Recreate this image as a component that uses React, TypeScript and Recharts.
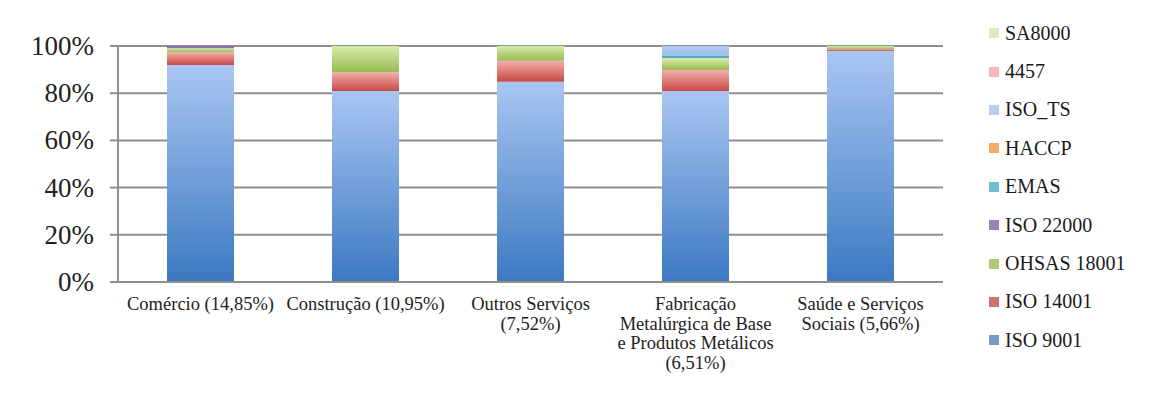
import React from "react";
import {
  BarChart,
  Bar,
  XAxis,
  YAxis,
  CartesianGrid,
} from "recharts";

const categories = [
  "Comércio (14,85%)",
  "Construção (10,95%)",
  "Outros Serviços (7,52%)",
  "Fabricação Metalúrgica de Base e Produtos Metálicos (6,51%)",
  "Saúde e Serviços Sociais (5,66%)",
];

// how each category label is broken over lines, as in the picture
const categoryLines = [
  ["Comércio (14,85%)"],
  ["Construção (10,95%)"],
  ["Outros Serviços", "(7,52%)"],
  ["Fabricação", "Metalúrgica de Base", "e Produtos Metálicos", "(6,51%)"],
  ["Saúde e Serviços", "Sociais (5,66%)"],
];

// share of each certification per category, in %
const iso9001 = [91.9, 80.9, 84.9, 80.9, 97.9];
const iso14001 = [5.5, 8.0, 8.9, 8.9, 0.8];
const ohsas18001 = [1.6, 11.1, 6.2, 5.1, 1.3];
const iso22000 = [1.0, 0, 0, 0, 0];
const emas = [0, 0, 0, 1.1, 0];
const haccp = [0, 0, 0, 0, 0];
const isoTs = [0, 0, 0, 4.0, 0];
const n4457 = [0, 0, 0, 0, 0];
const sa8000 = [0, 0, 0, 0, 0];

const yTicks = [0, 20, 40, 60, 80, 100];
const boundaryTicks = [1, 2, 3, 4, 5];

const SERIES = [
  { key: "ISO 9001", values: iso9001, fill: "url(#gBlue)", swatch: "#4f81bd" },
  { key: "ISO 14001", values: iso14001, fill: "url(#gRed)", swatch: "#c0504d" },
  { key: "OHSAS 18001", values: ohsas18001, fill: "url(#gGreen)", swatch: "#9bbb59" },
  { key: "ISO 22000", values: iso22000, fill: "#8a70ab", swatch: "#8064a2" },
  { key: "EMAS", values: emas, fill: "#4bacc6", swatch: "#4bacc6" },
  { key: "HACCP", values: haccp, fill: "#f79646", swatch: "#f79646" },
  { key: "ISO_TS", values: isoTs, fill: "url(#gLightBlue)", swatch: "#a7c0ec" },
  { key: "4457", values: n4457, fill: "#f0a9a7", swatch: "#f0a9a7" },
  { key: "SA8000", values: sa8000, fill: "#d3e7b0", swatch: "#d3e7b0" },
];

const data = categories.map((name, i) => {
  const row: Record<string, any> = { name };
  SERIES.forEach((s) => {
    row[s.key] = s.values[i];
  });
  return row;
});

const FONT = "'Liberation Serif', 'DejaVu Serif', serif";
const GRID = "#8f8f8f";

function CategoryTick({ x, y, payload }: any) {
  const lines = categoryLines[payload.index] || [payload.value];
  return (
    <text
      x={x}
      y={y + 20}
      textAnchor="middle"
      style={{ fontFamily: FONT, fontSize: 18.5 }}
      fill="#222"
    >
      {lines.map((l, i) => (
        <tspan key={i} x={x} dy={i === 0 ? 0 : 19.5}>
          {l}
        </tspan>
      ))}
    </text>
  );
}

function PercentTick({ x, y, payload }: any) {
  return (
    <text
      x={x}
      y={y}
      dy={9}
      textAnchor="end"
      style={{ fontFamily: FONT, fontSize: 27 }}
      fill="#222"
    >
      {`${payload.value}%`}
    </text>
  );
}

function LegendBox() {
  const items = [...SERIES].reverse();
  return (
    <div
      style={{
        position: "absolute",
        left: 989,
        top: 14,
        width: 175,
        fontFamily: FONT,
        fontSize: 20,
        color: "#1a1a1a",
      }}
    >
      {items.map((s) => (
        <div
          key={s.key}
          style={{ height: 38.4, display: "flex", alignItems: "center" }}
        >
          <span
            style={{
              width: 10,
              height: 10,
              background: s.swatch,
              opacity: 0.8,
              marginRight: 6,
              display: "inline-block",
            }}
          />
          {s.key}
        </div>
      ))}
    </div>
  );
}

export default function App() {
  return (
    <div style={{ position: "relative", width: 1168, height: 401, margin: -8, overflow: "hidden", background: "#fff" }}>
      <div
        style={{
          position: "absolute",
          left: 5,
          top: 2,
          width: 1200,
          height: 450,
          borderLeft: `2px solid ${GRID}`,
          borderTop: `2px solid ${GRID}`,
        }}
      />
      <div style={{ position: "absolute", left: 0, top: 0 }}>
        <BarChart
          width={1168}
          height={401}
          data={data}
          margin={{ top: 46, right: 225, left: 8, bottom: 0 }}
        >
          <defs>
            <linearGradient id="gBlue" x1="0" y1="0" x2="0" y2="1">
              <stop offset="0%" stopColor="#a9c6f2" />
              <stop offset="100%" stopColor="#3c79c2" />
            </linearGradient>
            <linearGradient id="gRed" x1="0" y1="0" x2="0" y2="1">
              <stop offset="0%" stopColor="#f5aeac" />
              <stop offset="100%" stopColor="#c74a46" />
            </linearGradient>
            <linearGradient id="gGreen" x1="0" y1="0" x2="0" y2="1">
              <stop offset="0%" stopColor="#d8ecaa" />
              <stop offset="100%" stopColor="#98bb52" />
            </linearGradient>
            <linearGradient id="gLightBlue" x1="0" y1="0" x2="0" y2="1">
              <stop offset="0%" stopColor="#b4cdf3" />
              <stop offset="100%" stopColor="#9dbaea" />
            </linearGradient>
          </defs>
          <CartesianGrid vertical={false} stroke={GRID} strokeWidth={2} />
          <XAxis
            xAxisId="cat"
            dataKey="name"
            height={119}
            interval={0}
            tick={<CategoryTick />}
            tickLine={false}
            axisLine={{ stroke: GRID, strokeWidth: 2 }}
          />
          <XAxis
            xAxisId="edge"
            type="number"
            domain={[0, 5]}
            ticks={boundaryTicks}
            height={0}
            tickSize={8}
            tickFormatter={() => ""}
            tickLine={{ stroke: GRID, strokeWidth: 2 }}
            axisLine={false}
          />
          <YAxis
            width={110}
            domain={[0, 100]}
            ticks={yTicks}
            tickSize={8}
            tickMargin={16}
            tick={<PercentTick />}
            tickLine={{ stroke: GRID, strokeWidth: 2 }}
            axisLine={{ stroke: GRID, strokeWidth: 2 }}
          />
          {SERIES.map((s) => (
            <Bar
              key={s.key}
              xAxisId="cat"
              dataKey={s.key}
              stackId="a"
              fill={s.fill}
              barSize={67}
              isAnimationActive={false}
            />
          ))}
        </BarChart>
      </div>
      <LegendBox />
    </div>
  );
}
